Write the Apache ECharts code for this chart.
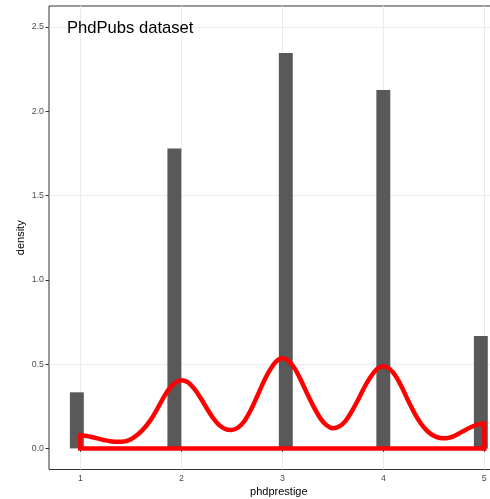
<!DOCTYPE html>
<html>
<head>
<meta charset="utf-8">
<script src="https://cdn.jsdelivr.net/npm/echarts@6/dist/echarts.min.js"></script>
<style>
  html, body { margin: 0; padding: 0; background: #fff; }
  #chart { width: 490px; height: 499px; }
</style>
</head>
<body>
<div id="chart"></div>
<script>
// histogram of phdprestige, on the density scale
const binStart = [0.8966, 1.8621, 2.9655, 3.931, 4.8966];
const binEnd = [1.0345, 2.0, 3.1034, 4.069, 5.0345];
const binDensity = [0.333, 1.78, 2.346, 2.126, 0.667];

// kernel density curve, every 1/16
const kdeX = [1, 1.0625, 1.125, 1.1875, 1.25, 1.3125, 1.375, 1.4375,
  1.5, 1.5625, 1.625, 1.6875, 1.75, 1.8125, 1.875, 1.9375,
  2, 2.0625, 2.125, 2.1875, 2.25, 2.3125, 2.375, 2.4375,
  2.5, 2.5625, 2.625, 2.6875, 2.75, 2.8125, 2.875, 2.9375,
  3, 3.0625, 3.125, 3.1875, 3.25, 3.3125, 3.375, 3.4375,
  3.5, 3.5625, 3.625, 3.6875, 3.75, 3.8125, 3.875, 3.9375,
  4, 4.0625, 4.125, 4.1875, 4.25, 4.3125, 4.375, 4.4375,
  4.5, 4.5625, 4.625, 4.6875, 4.75, 4.8125, 4.875, 4.9375, 5];
const kdeY = [0.077, 0.074, 0.066, 0.057, 0.048, 0.041, 0.039, 0.042,
  0.055, 0.08, 0.115, 0.162, 0.222, 0.29, 0.35, 0.39,
  0.405, 0.393, 0.356, 0.302, 0.24, 0.182, 0.138, 0.115,
  0.11, 0.124, 0.163, 0.228, 0.308, 0.392, 0.463, 0.515,
  0.535, 0.518, 0.472, 0.4, 0.32, 0.245, 0.18, 0.137,
  0.12, 0.13, 0.162, 0.22, 0.289, 0.363, 0.425, 0.472,
  0.488, 0.472, 0.427, 0.358, 0.278, 0.205, 0.145, 0.102,
  0.075, 0.062, 0.061, 0.07, 0.089, 0.11, 0.129, 0.143, 0.148];

const xTicks = [1, 2, 3, 4, 5];
const yTicks = [0, 0.5, 1, 1.5, 2, 2.5];

const font = 'Liberation Sans, Arial, sans-serif';
const chart = echarts.init(document.getElementById('chart'));

const last = kdeX.length - 1;
const outline = [
  [kdeX[0], kdeY[0]], [kdeX[0], 0], [kdeX[last], 0], [kdeX[last], kdeY[last]]
];

chart.setOption({
  animation: false,
  backgroundColor: '#fff',
  grid: {
    left: 49, top: 6, width: 459.7, height: 463.5,
    outerBoundsMode: 'none', containLabel: false,
    show: true, borderColor: '#333333', borderWidth: 1, backgroundColor: '#fff'
  },
  graphic: [{
    type: 'text', left: 67, top: 20, z: 10,
    style: { text: 'PhdPubs dataset', fontSize: 16.6, fontFamily: font, fill: '#000' }
  }],
  xAxis: {
    type: 'value', min: 0.6897, max: 5.2414, splitNumber: 9,
    name: 'phdprestige', nameLocation: 'middle', nameGap: 17, nameMoveOverlap: false,
    nameTextStyle: { fontSize: 11, fontFamily: font, color: '#000' },
    axisLine: { show: false },
    axisTick: { show: true, length: 3.5, customValues: xTicks, lineStyle: { color: '#333333' } },
    axisLabel: {
      customValues: xTicks, margin: 5, fontSize: 8.8, fontFamily: font, color: '#4d4d4d',
      formatter: v => Number.isInteger(v) ? String(v) : ''
    },
    splitLine: { show: true, lineStyle: { color: '#ebebeb', width: 1 } }
  },
  yAxis: {
    type: 'value', min: -0.125, max: 2.625, interval: 0.125,
    name: 'density', nameLocation: 'middle', nameGap: 23, nameMoveOverlap: false,
    nameTextStyle: { fontSize: 11, fontFamily: font, color: '#000' },
    axisLine: { show: false },
    axisTick: { show: true, length: 3.5, customValues: yTicks, lineStyle: { color: '#333333' } },
    axisLabel: {
      customValues: yTicks, margin: 5, fontSize: 8.8, fontFamily: font, color: '#4d4d4d',
      formatter: v => v.toFixed(1)
    },
    splitLine: { show: true, lineStyle: { color: ['rgba(0,0,0,0)', '#ebebeb'], width: 1 } }
  },
  series: [
    {
      type: 'custom',
      data: binStart.map((s, i) => [s, binEnd[i], binDensity[i]]),
      encode: { x: [0, 1], y: 2 },
      renderItem: (params, api) => {
        const p0 = api.coord([api.value(0), api.value(2)]);
        const p1 = api.coord([api.value(1), 0]);
        return {
          type: 'rect',
          shape: { x: p0[0], y: p0[1], width: p1[0] - p0[0], height: p1[1] - p0[1] },
          style: { fill: '#595959' }
        };
      },
      z: 2
    },
    {
      type: 'line',
      data: kdeX.map((x, i) => [x, kdeY[i]]),
      smooth: 0.3,
      showSymbol: false,
      lineStyle: { color: '#ff0000', width: 4.5 },
      z: 3
    },
    {
      type: 'line',
      data: outline,
      showSymbol: false,
      lineStyle: { color: '#ff0000', width: 4.5, join: 'miter', cap: 'square' },
      z: 3
    }
  ]
});
</script>
</body>
</html>
